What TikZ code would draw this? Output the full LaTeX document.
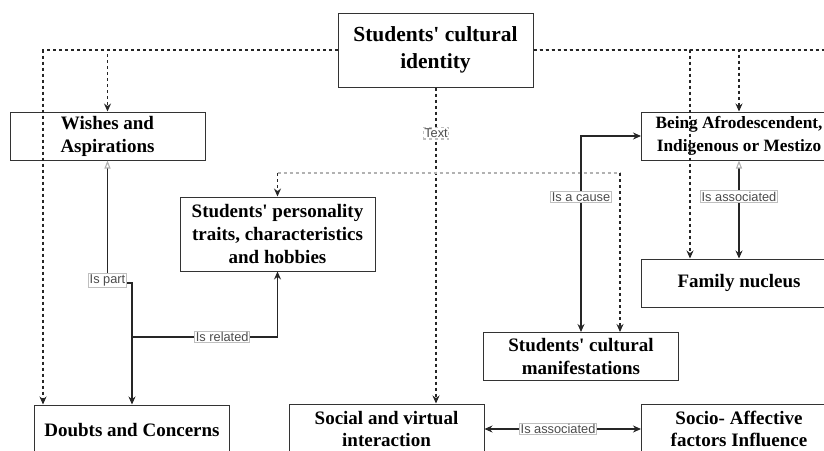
\documentclass[tikz,border=0pt]{standalone}
\usepackage{fontspec}
\setmainfont{Liberation Serif}
\newfontfamily\lblfont{Liberation Sans}
\usetikzlibrary{arrows.meta}
\newcommand{\q}{\textquotesingle}

\begin{document}
\begin{tikzpicture}[x=1pt,y=-1pt,
    box/.style={draw=black!80,line width=1pt,fill=white,align=center,minimum width=195,minimum height=48,inner sep=2pt,font=\fontsize{19}{23}\selectfont\bfseries},
    lbl/.style={draw=black!25,fill=white,text=black!70,inner sep=1.2pt,font=\lblfont\fontsize{12.8}{13}\selectfont},
    con/.style={draw=black!85,line width=1.1pt,-{Stealth[length=8pt,width=7pt]}},
    dsh/.style={con,dash pattern=on 3pt off 3pt},
    both/.style={{Stealth[length=8pt,width=7pt]}-{Stealth[length=8pt,width=7pt]}},
    hollow/.style={{Triangle[open,length=8pt,width=6pt,color=black!30]}-{Stealth[length=8pt,width=7pt]}}]
    \useasboundingbox(0,0)rectangle(824,450);
    \clip(0,0)rectangle(824,450);

    \node[box,minimum height=74,font=\fontsize{21.5}{26.5}\selectfont\bfseries](idt)at(435.5,50){Students\q{} cultural\\identity};
    \node[box](wish)at(107.5,136){Wishes and\\Aspirations};
    \node[box,font=\fontsize{17.3}{23}\selectfont\bfseries](being)at(739,136){Being Afrodescendent,\\Indigenous or Mestizo};
    \node[box,minimum height=74](pers)at(277.5,234){Students\q{} personality\\traits, characteristics\\and hobbies};
    \node[box](fam)at(739,283){Family nucleus};
    \node[box](mani)at(581,356.5){Students\q{} cultural\\manifestations};
    \node[box,minimum height=50](doubt)at(132,430){Doubts and Concerns};
    \node[box,minimum height=50,font=\fontsize{19}{21.5}\selectfont\bfseries](soc)at(386.5,429){Social and virtual\\interaction};
    \node[box,minimum height=50,font=\fontsize{19}{21.5}\selectfont\bfseries](aff)at(739,429){Socio- Affective\\factors Influence};

    \coordinate(tl)at(43,0);
    \coordinate(tr)at(830,0);
    \coordinate(fx)at(690,0);
    \coordinate(sx)at(436,0);
    \coordinate(gl)at(277.5,173);
    \coordinate(gr)at(620,173);
    \coordinate(jp)at(132,283);
    \coordinate(jr)at(132,337);

    \draw[dsh](idt.west)-|(doubt.north-|tl);
    \draw[dsh](idt.west)-|(wish.north);
    \draw[dsh,-](idt.east)--(idt.east-|tr);
    \draw[dsh](idt.east)-|(being.north);
    \draw[dsh](idt.east)-|(fam.north-|fx);
    \draw[dsh](idt.south-|sx)--(soc.north-|sx)node[lbl,pos=.145]{Text};

    \draw[dsh,-,draw=black!30](gl)--(gr);
    \draw[dsh](gl)--(pers.north);
    \draw[dsh](gr)--(mani.north-|gr);

    \draw[con,hollow](wish.south)|-node[lbl,pos=.49]{Is part}(jp)--(doubt.north);
    \draw[con](jr)-|node[lbl,pos=.31]{Is related}(pers.south);
    \draw[con,both](mani.north)|-node[lbl,pos=.345]{Is a cause}(being.west);
    \draw[con,hollow](being.south)--node[lbl,pos=.37]{Is associated}(fam.north);
    \draw[con,both](soc.east)--node[lbl,pos=.47]{Is associated}(aff.west);
\end{tikzpicture}
\end{document}
